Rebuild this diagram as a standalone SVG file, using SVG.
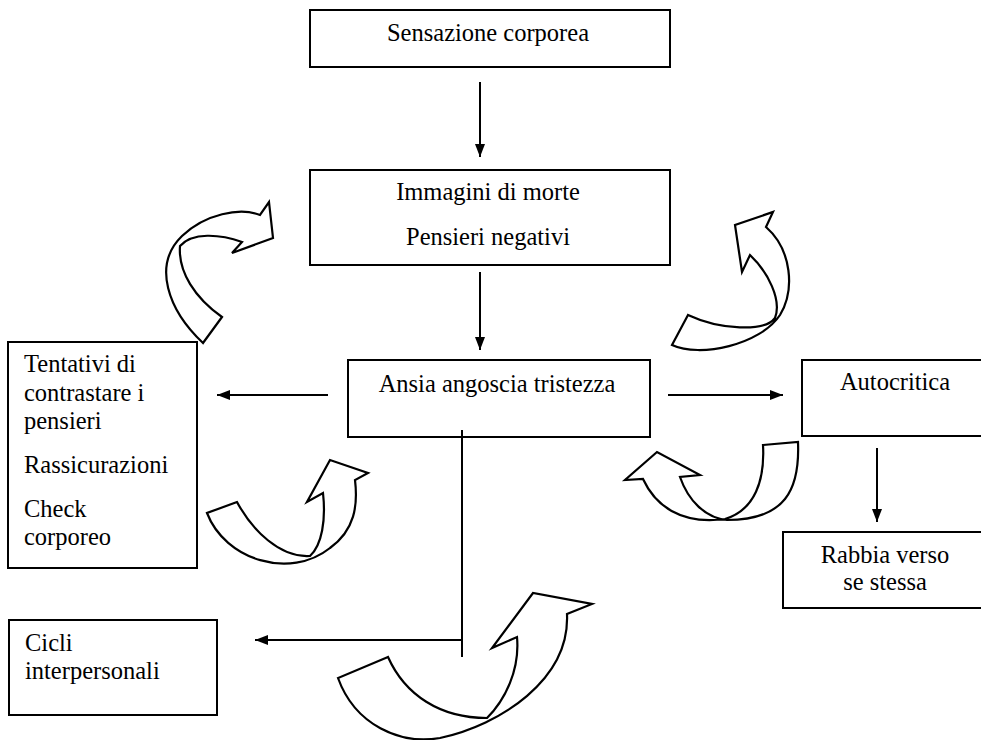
<svg xmlns="http://www.w3.org/2000/svg" width="981" height="740" viewBox="0 0 981 740">
<style>
.box{fill:#fff;stroke:#000;stroke-width:2}
.t{font-family:"Liberation Serif","Times New Roman",serif;font-size:24.5px;fill:#000}
.c{text-anchor:middle}
.ln{stroke:#000;stroke-width:2;fill:none}
.ca{fill:#fff;stroke:#000;stroke-width:2.2;stroke-linejoin:miter}
</style>
<defs>
<marker id="ah" markerUnits="userSpaceOnUse" markerWidth="14" markerHeight="12" refX="13" refY="5" orient="auto">
<path d="M0,0 L13,5 L0,10 Z" fill="#000"/>
</marker>
</defs>
<rect width="981" height="740" fill="#fff"/>

<g id="n-sensazione">
<rect class="box" x="310" y="10" width="360" height="57"/>
<text class="t c" x="488" y="41">Sensazione corporea</text>
</g>
<g id="n-immagini">
<rect class="box" x="310" y="170" width="360" height="95"/>
<text class="t c" x="488" y="200">Immagini di morte</text>
<text class="t c" x="488" y="245">Pensieri negativi</text>
</g>
<g id="n-ansia">
<rect class="box" x="348" y="360" width="302" height="77"/>
<text class="t c" x="497" y="392">Ansia angoscia tristezza</text>
</g>
<g id="n-autocritica">
<rect class="box" x="802" y="360" width="195" height="76"/>
<text class="t c" x="895" y="390">Autocritica</text>
</g>
<g id="n-rabbia">
<rect class="box" x="783" y="532" width="212" height="76"/>
<text class="t c" x="885" y="563">Rabbia verso</text>
<text class="t c" x="885" y="590">se stessa</text>
</g>
<g id="n-tentativi">
<rect class="box" x="8" y="342" width="189" height="226"/>
<text class="t" x="24" y="372">Tentativi di</text>
<text class="t" x="24" y="401">contrastare i</text>
<text class="t" x="24" y="429">pensieri</text>
<text class="t" x="24" y="473">Rassicurazioni</text>
<text class="t" x="24" y="517">Check</text>
<text class="t" x="24" y="545">corporeo</text>
</g>
<g id="n-cicli">
<rect class="box" x="9" y="620" width="208" height="95"/>
<text class="t" x="25" y="651">Cicli</text>
<text class="t" x="25" y="679">interpersonali</text>
</g>

<g id="connectors">
<line class="ln" x1="480" y1="82" x2="480" y2="157" marker-end="url(#ah)"/>
<line class="ln" x1="480" y1="272" x2="480" y2="350" marker-end="url(#ah)"/>
<line class="ln" x1="328" y1="395" x2="217" y2="395" marker-end="url(#ah)"/>
<line class="ln" x1="668" y1="395" x2="783" y2="395" marker-end="url(#ah)"/>
<line class="ln" x1="877" y1="448" x2="877" y2="522" marker-end="url(#ah)"/>
<line class="ln" x1="462" y1="430" x2="462" y2="657"/>
<line class="ln" x1="462" y1="640" x2="255" y2="640" marker-end="url(#ah)"/>
</g>

<g id="curved-arrows">
<path class="ca" d="M222 317 L203 343 C168 310 152 265 182 236 C205 214 240 207 260 215 L269 202 L273 238 L232 253 L242 242 C220 234 192 232 180 246 C178 272 195 298 222 317 Z"/>
<path class="ca" d="M688 315 L672 345 C700 358 760 345 780 315 C795 290 792 250 766 227 L773 212 L735 225 L742 272 L750 255 C768 272 782 300 775 318 C765 332 720 330 688 315 Z"/>
<path class="ca" d="M237 502 L207 513 C225 560 290 580 330 548 C355 530 358 505 355 480 L368 473 L330 460 L307 502 L323 493 C326 520 322 545 310 556 C280 558 252 530 237 502 Z"/>
<path class="ca" d="M763 445 L798 442 C800 490 785 520 727 520 C705 518 688 500 680 477 L700 475 L657 452 L625 480 L643 479 C655 505 680 525 725 519 C755 510 765 480 763 445 Z"/>
<path class="ca" d="M388 657 L338 678 C355 725 400 745 440 738 C500 725 570 680 567 614 L592 604 L533 593 L492 648 L517 637 C520 670 505 700 487 718 C440 718 405 695 388 657 Z"/>
</g>
</svg>
